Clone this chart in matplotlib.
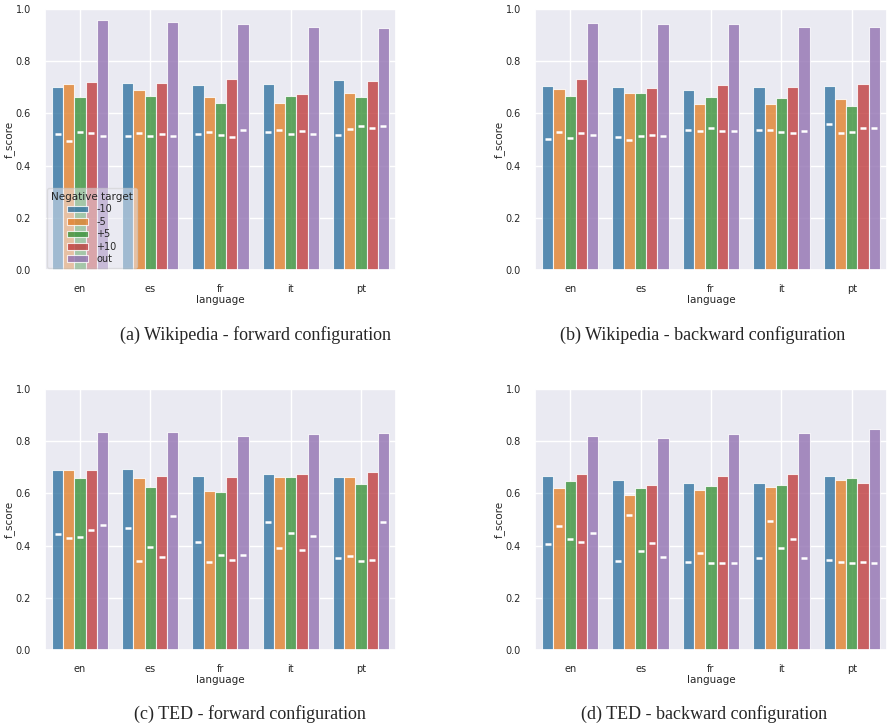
import colorsys
import numpy as np
import matplotlib
matplotlib.use("Agg")
import matplotlib.pyplot as plt
import matplotlib.colors as mcolors
import seaborn as sns

sns.set_theme(style="darkgrid")

languages = ["en", "es", "fr", "it", "pt"]
targets = ["-10", "-5", "+5", "+10", "out"]

# f_score per target (rows) and language (columns)
wiki_fwd = [
    [0.701, 0.715, 0.710, 0.711, 0.729],
    [0.714, 0.690, 0.664, 0.641, 0.678],
    [0.663, 0.667, 0.641, 0.667, 0.663],
    [0.722, 0.716, 0.732, 0.673, 0.725],
    [0.957, 0.951, 0.943, 0.932, 0.928],
]
wiki_fwd_base = [
    [0.522, 0.512, 0.521, 0.527, 0.517],
    [0.493, 0.525, 0.529, 0.535, 0.540],
    [0.530, 0.512, 0.517, 0.521, 0.550],
    [0.525, 0.520, 0.510, 0.531, 0.545],
    [0.515, 0.513, 0.538, 0.521, 0.553],
]
wiki_bwd = [
    [0.706, 0.701, 0.690, 0.700, 0.705],
    [0.692, 0.677, 0.636, 0.637, 0.654],
    [0.667, 0.678, 0.664, 0.658, 0.627],
    [0.732, 0.696, 0.710, 0.702, 0.711],
    [0.945, 0.941, 0.943, 0.932, 0.932],
]
wiki_bwd_base = [
    [0.501, 0.511, 0.538, 0.536, 0.559],
    [0.529, 0.499, 0.531, 0.538, 0.524],
    [0.505, 0.515, 0.544, 0.527, 0.529],
    [0.525, 0.516, 0.534, 0.526, 0.543],
    [0.516, 0.513, 0.533, 0.533, 0.543],
]
ted_fwd = [
    [0.690, 0.693, 0.667, 0.673, 0.664],
    [0.690, 0.660, 0.609, 0.664, 0.664],
    [0.660, 0.626, 0.607, 0.664, 0.637],
    [0.691, 0.665, 0.662, 0.676, 0.683],
    [0.835, 0.835, 0.821, 0.826, 0.830],
]
ted_fwd_base = [
    [0.446, 0.467, 0.413, 0.492, 0.352],
    [0.429, 0.341, 0.336, 0.390, 0.359],
    [0.432, 0.395, 0.363, 0.448, 0.340],
    [0.459, 0.355, 0.344, 0.383, 0.346],
    [0.478, 0.512, 0.365, 0.437, 0.492],
]
ted_bwd = [
    [0.667, 0.650, 0.639, 0.639, 0.667],
    [0.622, 0.594, 0.612, 0.625, 0.653],
    [0.649, 0.619, 0.630, 0.632, 0.660],
    [0.674, 0.633, 0.668, 0.674, 0.640],
    [0.820, 0.814, 0.829, 0.831, 0.847],
]
ted_bwd_base = [
    [0.405, 0.340, 0.336, 0.351, 0.346],
    [0.475, 0.518, 0.370, 0.495, 0.337],
    [0.427, 0.378, 0.335, 0.392, 0.334],
    [0.414, 0.409, 0.334, 0.425, 0.336],
    [0.448, 0.355, 0.334, 0.351, 0.333],
]

captions = [
    "(a) Wikipedia - forward configuration",
    "(b) Wikipedia - backward configuration",
    "(c) TED - forward configuration",
    "(d) TED - backward configuration",
]


def desat(c, prop=0.75):
    r, g, b = mcolors.to_rgb(c)
    h, l, s = colorsys.rgb_to_hls(r, g, b)
    return colorsys.hls_to_rgb(h, l, s * prop)


colors = [desat(c) for c in plt.get_cmap("tab10").colors[:5]]

W, H = 893, 727
fig = plt.figure(figsize=(W / 100, H / 100), dpi=100)

# axes boxes in pixels: left, top, right, bottom
boxes = [(45, 9, 396, 270), (535, 9, 887, 270), (45, 389, 396, 650), (535, 389, 887, 650)]
panels = [(wiki_fwd, wiki_fwd_base), (wiki_bwd, wiki_bwd_base),
          (ted_fwd, ted_fwd_base), (ted_bwd, ted_bwd_base)]
cap_pos = [(256, 335), (703, 335), (250, 714), (704, 714)]

x = np.arange(len(languages))
bw = 0.8 / len(targets)

for k, (box, (vals, base)) in enumerate(zip(boxes, panels)):
    l, t, r, b = box
    ax = fig.add_axes([l / W, 1 - b / H, (r - l) / W, (b - t) / H])
    for i, tg in enumerate(targets):
        xs = x - 0.4 + bw * (i + 0.5)
        ax.bar(xs, vals[i], width=bw, color=colors[i], alpha=0.8,
               edgecolor="white", linewidth=0.8, label=tg, zorder=2)
        ax.plot(xs, base[i], ls="none", marker="_", ms=4.5, mew=1.8,
                color="white", zorder=3)
    ax.set_xlim(-0.5, len(languages) - 0.5)
    ax.set_ylim(0, 1.0)
    ax.set_xticks(x)
    ax.set_xticklabels(languages)
    ax.set_yticks(np.arange(0, 1.01, 0.2))
    ax.set_yticklabels(["%.1f" % v for v in np.arange(0, 1.01, 0.2)])
    ax.tick_params(labelsize=7, pad=4)
    ax.set_xlabel("language", fontsize=7.5, labelpad=1)
    ax.set_ylabel("f_score", fontsize=7.5, labelpad=1)
    if k == 0:
        leg = ax.legend(title="Negative target", loc="lower left", fontsize=7,
                        title_fontsize=7.5, framealpha=0.5, borderaxespad=0.2,
                        handlelength=2.2, labelspacing=0.25)
    cx, cy = cap_pos[k]
    fig.text(cx / W, 1 - cy / H, captions[k], ha="center", va="center",
             fontsize=13, family="Liberation Serif")

fig.savefig("out.png", dpi=100)
